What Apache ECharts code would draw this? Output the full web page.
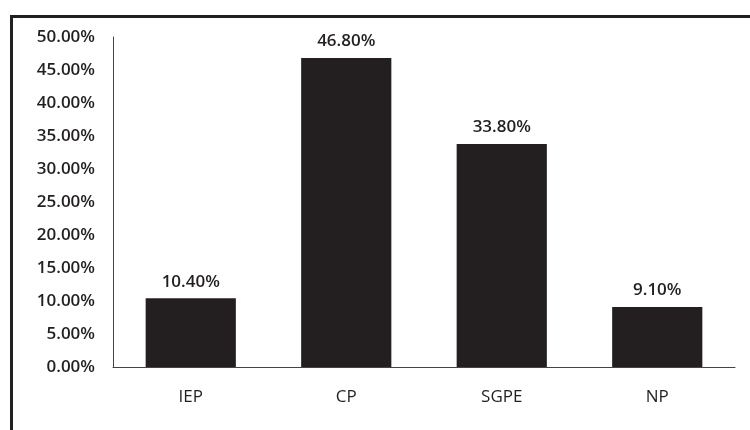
<!DOCTYPE html>
<html>
<head>
<meta charset="utf-8">
<script src="https://cdn.jsdelivr.net/npm/echarts@6/dist/echarts.min.js"></script>
<style>
  html, body { margin: 0; padding: 0; background: #fff; }
  #chart { width: 750px; height: 430px; }
</style>
</head>
<body>
<div id="chart"></div>
<script>
// Share of each category, in percent
const categories = ['IEP', 'CP', 'SGPE', 'NP'];
const shares = [10.4, 46.8, 33.8, 9.1];
const yTicks = { min: 0, max: 50, step: 5 };

const FONT = '"Open Sans", sans-serif';
const INK = '#231f20';
const TEXT = { color: INK, fontFamily: FONT, fontSize: 17, fontWeight: 600 };

const chart = echarts.init(document.getElementById('chart'));
chart.setOption({
  animation: false,
  backgroundColor: '#fff',
  graphic: [{
    type: 'rect',
    left: 9, top: 14,
    shape: { width: 780, height: 460 },
    style: { fill: 'none', stroke: INK, lineWidth: 3 },
    silent: true
  }],
  grid: { left: 113, right: 15, top: 37, bottom: 63 },
  xAxis: {
    type: 'category',
    data: categories,
    axisLine: { lineStyle: { color: '#444', width: 1 } },
    axisTick: { show: false },
    axisLabel: Object.assign({}, TEXT, { margin: 22, fontWeight: 'normal' })
  },
  yAxis: {
    type: 'value',
    min: yTicks.min, max: yTicks.max, interval: yTicks.step,
    axisLine: { show: true, lineStyle: { color: '#444', width: 1 } },
    axisTick: { show: false },
    splitLine: { show: false },
    axisLabel: Object.assign({
      margin: 18,
      formatter: v => v.toFixed(2) + '%'
    }, TEXT)
  },
  series: [{
    type: 'bar',
    data: shares,
    barWidth: '58%',
    itemStyle: { color: INK },
    label: Object.assign({
      show: true, position: 'top', distance: 8,
      formatter: p => p.value.toFixed(2) + '%'
    }, TEXT)
  }]
});
</script>
</body>
</html>
